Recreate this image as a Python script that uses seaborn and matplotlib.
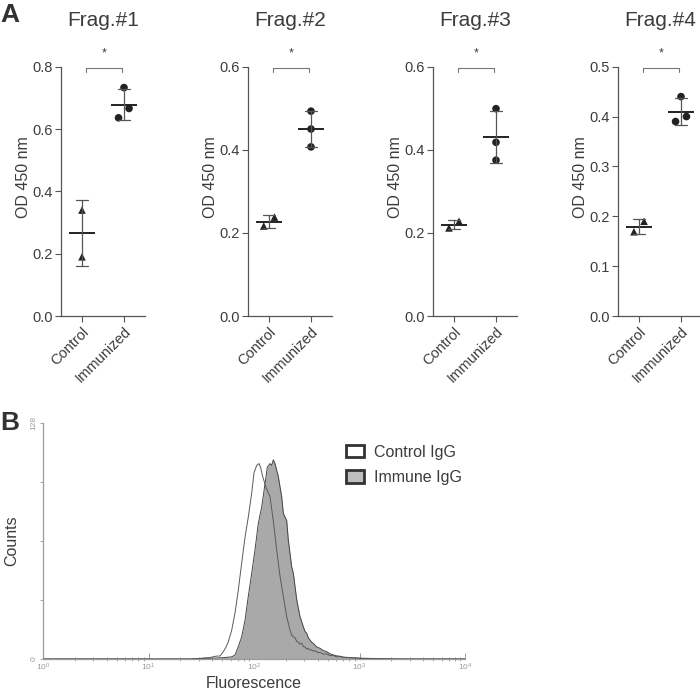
import numpy as np
import pandas as pd
import matplotlib
matplotlib.use("Agg")
import matplotlib.pyplot as plt
import matplotlib.ticker as mticker
from matplotlib.patches import Patch
import seaborn as sns

# ---------------- data ----------------
frag_titles = ["Frag.#1", "Frag.#2", "Frag.#3", "Frag.#4"]
groups = ["Control", "Immunized"]
control_vals = [[0.34, 0.19], [0.2165, 0.238], [0.212, 0.228], [0.169, 0.19]]
immunized_vals = [[0.733, 0.636, 0.666], [0.493, 0.450, 0.407],
                  [0.499, 0.418, 0.375], [0.44, 0.39, 0.40]]
y_tops = [0.8, 0.6, 0.6, 0.5]
y_steps = [0.2, 0.2, 0.2, 0.1]
sig_labels = ["*", "*", "*", "*"]

# horizontal placement of individual points (style)
control_offsets = [[0.0, 0.0], [-0.125, 0.13], [-0.12, 0.12], [-0.12, 0.12]]
immunized_offsets = [[0.0, -0.13, 0.12], [0.0, 0.0, 0.0],
                     [0.0, 0.0, 0.0], [0.0, -0.13, 0.13]]

# flow cytometry histograms (fluorescence, counts)
ctrl_fluor = [1.0, 24.7, 30.8, 34.3, 38.3, 40.9, 44.6, 47.6, 51.2, 54.3, 57.1, 61.5,
              66.1, 71.0, 76.4, 82.2, 88.3, 95.1, 100.0, 106.1, 111.5, 115.8, 120.9,
              130.0, 141.8, 152.4, 164.1, 176.3, 189.6, 204.2, 219.3, 227.6, 236.0,
              244.7, 254.2, 263.0, 273.0, 283.2, 293.3, 304.3, 316.0, 327.1, 339.5,
              352.3, 364.9, 378.5, 404.3, 422.3, 453.9, 488.5, 525.0, 564.6, 608.0,
              653.5, 729.0, 906.0, 1128.0, 1564.0, 2421.0, 10000.0]
ctrl_counts = [0.0, 0.0, 0.3, 0.6, 0.8, 1.2, 1.6, 1.6, 4.0, 6.5, 9.4, 15.7,
               25.0, 37.4, 52.0, 66.0, 77.0, 90.0, 101.0, 105.0, 106.0, 103.6, 99.0,
               93.0, 88.0, 75.0, 59.0, 45.0, 34.0, 23.0, 15.7, 13.0, 12.0,
               11.5, 9.5, 9.2, 8.0, 8.6, 6.8, 6.5, 5.4, 5.8, 4.8,
               5.0, 4.2, 4.5, 3.4, 3.6, 2.6, 2.8, 1.8, 1.9, 1.2,
               1.3, 0.8, 0.6, 0.4, 0.2, 0.0, 0.0]
imm_fluor = [1.0, 24.7, 30.8, 42.7, 53.1, 61.8, 66.1, 71.0, 76.4, 82.2, 88.3, 95.1,
             102.1, 109.9, 118.4, 127.2, 133.7, 141.8, 147.2, 152.4, 158.2, 169.9,
             183.0, 189.6, 204.2, 211.4, 227.6, 236.0, 254.2, 273.0, 293.3, 304.3,
             316.0, 327.1, 339.5, 352.3, 364.9, 393.0, 422.3, 453.9, 488.5, 525.0,
             564.6, 608.0, 653.5, 700.0, 756.0, 906.0, 1087.0, 1564.0, 2421.0, 10000.0]
imm_counts = [0.0, 0.0, 0.3, 0.5, 0.8, 1.2, 2.2, 6.7, 12.0, 21.0, 34.0, 46.5,
              59.0, 73.6, 82.6, 95.0, 104.0, 106.0, 105.0, 108.0, 106.0, 99.0,
              88.0, 79.0, 75.0, 64.5, 50.0, 46.5, 32.0, 23.0, 17.5, 15.0,
              14.0, 11.5, 10.3, 9.0, 8.5, 6.5, 5.8, 4.6, 4.0, 2.8,
              2.2, 1.7, 1.5, 1.0, 0.9, 0.6, 0.2, 0.1, 0.0, 0.0]
legend_labels = ["Control IgG", "Immune IgG"]

# ---------------- style ----------------
sns.set_style("ticks")
plt.rcParams["font.family"] = ["Liberation Sans", "DejaVu Sans"]
TXT = "#3c3c3c"
AX = "#555555"
plt.rcParams.update({
    "text.color": TXT, "axes.labelcolor": TXT, "xtick.color": AX, "ytick.color": AX,
    "axes.edgecolor": AX, "axes.linewidth": 0.9,
})

W, H = 700, 691
fig = plt.figure(figsize=(7.0, 6.91), dpi=100)

def fx(px):
    return px / W

def fy(py):
    return 1 - py / H

panel_lefts = [61, 248, 433, 618]
ax_w = 84
ax_top, ax_bot = 66.7, 316

for i in range(4):
    ax = fig.add_axes([fx(panel_lefts[i]), fy(ax_bot), ax_w / W, (ax_bot - ax_top) / H])
    cv = control_vals[i]
    iv = immunized_vals[i]
    df = pd.DataFrame({
        "group": ["Control"] * len(cv) + ["Immunized"] * len(iv),
        "od": cv + iv,
        "xpos": [0 + o for o in control_offsets[i]] + [1 + o for o in immunized_offsets[i]],
    })
    sns.pointplot(data=df, x="group", y="od", order=groups, errorbar="sd",
                  capsize=0.28, marker="_", markersize=19, markeredgewidth=1.4,
                  linestyle="none", color="#222222",
                  err_kws={"linewidth": 0.9, "color": "#555555"}, ax=ax, zorder=3)
    sns.scatterplot(data=df, x="xpos", y="od", style="group",
                    markers={"Control": "^", "Immunized": "o"}, s=30,
                    color="#222222", edgecolor="none", legend=False, ax=ax, zorder=2)
    ax.set_xlim(-0.5, 1.5)
    ax.set_ylim(0, y_tops[i])
    ticks = np.round(np.arange(0, y_tops[i] + 1e-9, y_steps[i]), 2)
    ax.set_yticks(ticks)
    ax.set_yticklabels([f"{t:.1f}" for t in ticks], fontsize=10.5, color=TXT)
    ax.set_xticks([0, 1])
    ax.set_xticklabels(groups, rotation=45, ha="right", rotation_mode="anchor",
                       fontsize=10.5, color=TXT)
    ax.tick_params(axis="both", length=4, width=0.8, pad=2)
    ax.set_xlabel("")
    ax.set_ylabel("OD 450 nm", fontsize=11.5, labelpad=1)
    ax.yaxis.label.set_y(0.558)
    ax.set_title(frag_titles[i], fontsize=15, pad=29, color=TXT)
    sns.despine(ax=ax)
    # significance bracket
    trans = ax.get_xaxis_transform()
    ax.plot([0.1, 0.1, 0.95, 0.95], [0.98, 0.994, 0.994, 0.98], color="#777777",
            lw=0.8, transform=trans, clip_on=False)
    ax.text(0.53, 1.03, sig_labels[i], transform=trans, ha="center", va="bottom",
            fontsize=9, color=TXT)

fig.text(fx(0), fy(3), "A", fontsize=19, fontweight="bold", ha="left", va="top", color="#333333")
fig.text(fx(0), fy(411), "B", fontsize=19, fontweight="bold", ha="left", va="top", color="#333333")

# ---------------- panel B ----------------
axb = fig.add_axes([fx(43), fy(659), 422 / W, (659 - 423) / H])
axb.set_xscale("log")
axb.fill_between(imm_fluor, imm_counts, 0, color="#a9a9a9", lw=0, zorder=1)
sns.lineplot(x=ctrl_fluor, y=ctrl_counts, color="#5a5a5a", lw=0.7, estimator=None,
             ax=axb, zorder=3)
sns.lineplot(x=imm_fluor, y=imm_counts, color="#454545", lw=0.7, estimator=None,
             ax=axb, zorder=2)
axb.set_xlim(1, 1e4)
axb.set_ylim(0, 128)
for s in ["top", "right"]:
    axb.spines[s].set_visible(False)
for s in ["left", "bottom"]:
    axb.spines[s].set_color("#9a9a9a")
    axb.spines[s].set_linewidth(0.9)
axb.xaxis.set_major_locator(mticker.LogLocator(base=10, numticks=10))
axb.xaxis.set_minor_locator(mticker.LogLocator(base=10, subs=np.arange(2, 10), numticks=10))
axb.xaxis.set_major_formatter(mticker.LogFormatterMathtext())
axb.xaxis.set_minor_formatter(mticker.NullFormatter())
axb.tick_params(axis="x", which="major", direction="in", length=4, width=0.7,
                colors="#9a9a9a", labelsize=6, pad=2)
axb.tick_params(axis="x", which="minor", direction="inout", length=3, width=0.6,
                colors="#9a9a9a")
axb.set_yticks([0, 32, 64, 96, 128])
axb.set_yticklabels(["0", "", "", "", "128"], rotation=90, va="center")
axb.tick_params(axis="y", direction="out", length=2, width=0.6, colors="#9a9a9a",
                labelsize=6, pad=2)
axb.set_xlabel("Fluorescence", fontsize=11.5, labelpad=2)
axb.set_ylabel("Counts", fontsize=11.5)
axb.yaxis.set_label_coords(-0.057, 0.5)

handles = [Patch(facecolor="white", edgecolor="#333333", linewidth=2.0),
           Patch(facecolor="#bdbdbd", edgecolor="#333333", linewidth=2.0)]
axb.legend(handles, legend_labels, loc="upper left", bbox_to_anchor=(0.704, 0.935),
           frameon=False, fontsize=11.5, handlelength=1.1, handleheight=0.8,
           handletextpad=0.6, labelspacing=0.65, borderaxespad=0)

fig.savefig("out.png", dpi=100)
